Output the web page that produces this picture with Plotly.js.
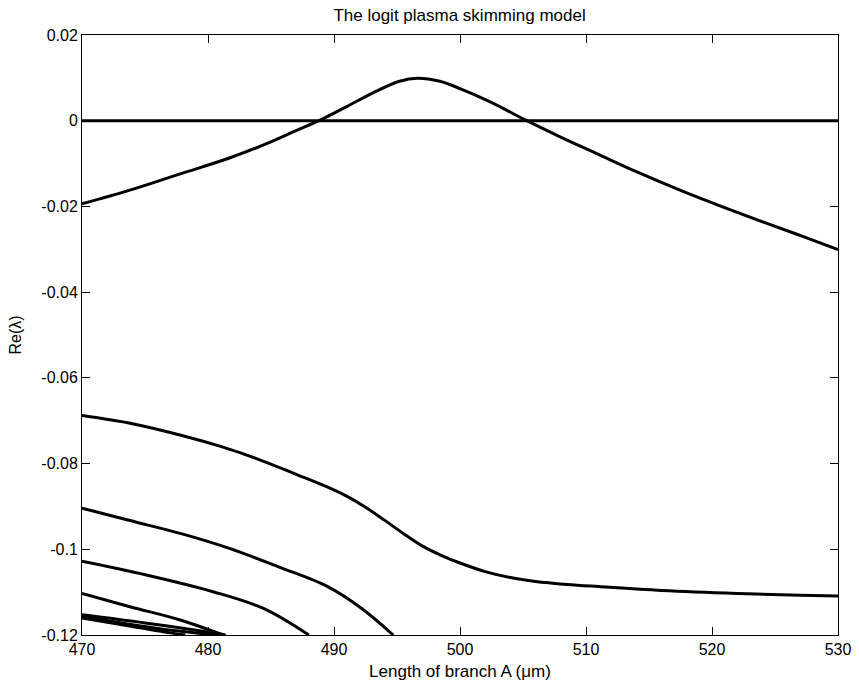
<!DOCTYPE html>
<html>
<head>
<meta charset="utf-8">
<script src="https://cdn.plot.ly/plotly-3.0.1.min.js"></script>
<style>html,body{margin:0;padding:0;background:#fff;}</style>
</head>
<body>
<div id="chart" style="width:859px;height:684px;"></div>
<script>
// Zero branch
const zeroX = [470, 530];
const zeroY = [0, 0];

// Upper hump branch
const humpX = [470, 473.8, 477.8, 481.7, 484.7, 487.0, 488.8, 491.0, 493.1, 495.2, 496.6, 498.4, 500.0, 502.4, 505.3, 507.9, 510.8, 514.0, 517.7, 521.1, 524.3, 527.2, 530];
const humpY = [-0.0194, -0.0162, -0.0124, -0.0087, -0.0053, -0.0023, 0, 0.0033, 0.0065, 0.0092, 0.0099, 0.0092, 0.0075, 0.0044, 0, -0.0037, -0.0076, -0.0119, -0.0165, -0.0204, -0.0239, -0.0270, -0.0301];

// Lower branches
const aX = [470, 474, 478, 481, 484, 487, 489.5, 491, 492.5, 494, 495.5, 497, 498.5, 500, 502, 504, 506, 508.5, 511, 516, 522, 527, 530];
const aY = [-0.0688, -0.0707, -0.0735, -0.0760, -0.0790, -0.0825, -0.0855, -0.0876, -0.0902, -0.0932, -0.0963, -0.0992, -0.1014, -0.1032, -0.1052, -0.1066, -0.1075, -0.1082, -0.1087, -0.1096, -0.1103, -0.1107, -0.1109];

const bX = [470, 473.8, 477.8, 481.7, 485.6, 489.5, 492.2, 494.7];
const bY = [-0.0904, -0.0933, -0.0963, -0.0998, -0.1041, -0.1087, -0.1138, -0.1200];

const cX = [470, 475.1, 480.4, 484.4, 488.0];
const cY = [-0.1028, -0.1060, -0.1099, -0.1138, -0.1200];

const dX = [470, 473.8, 477.8, 481.2];
const dY = [-0.1103, -0.1134, -0.1165, -0.1200];

const eX = [470, 475, 480, 481.4];
const eY = [-0.1153, -0.1172, -0.1193, -0.1200];

const fX = [470, 474, 477, 478.2];
const fY = [-0.1160, -0.1180, -0.1195, -0.1200];

const gX = [470, 476, 480.6];
const gY = [-0.1157, -0.1185, -0.1200];

const xTicks = [470, 480, 490, 500, 510, 520, 530];
const yTicks = [0.02, 0, -0.02, -0.04, -0.06, -0.08, -0.1, -0.12];
const yTickText = ['0.02', '0', '-0.02', '-0.04', '-0.06', '-0.08', '-0.1', '-0.12'];

const series = [[zeroX, zeroY], [humpX, humpY], [aX, aY], [bX, bY], [cX, cY], [dX, dY], [eX, eY], [fX, fY], [gX, gY]];
const traces = series.map(s => ({
  x: s[0], y: s[1], type: 'scatter', mode: 'lines',
  line: {color: '#000', width: 3, shape: 'spline', smoothing: 1},
  hoverinfo: 'skip'
}));

const fam = 'Liberation Sans, Arial, sans-serif';
const font = {family: fam, color: '#000', size: 16};

const layout = {
  width: 859, height: 684,
  margin: {l: 82, r: 21, t: 35, b: 49},
  paper_bgcolor: '#fff', plot_bgcolor: '#fff',
  showlegend: false,
  font: font,
  title: {text: 'The logit plasma skimming model', font: {family: fam, size: 17, color: '#000'}, x: 0.535, xanchor: 'center', y: 0.978, yanchor: 'middle'},
  xaxis: {
    range: [470, 530], tickvals: xTicks, ticktext: xTicks.map(String),
    ticks: 'inside', ticklen: 8, tickcolor: '#000', tickwidth: 1,
    showline: true, linecolor: '#000', linewidth: 1, mirror: 'allticks',
    showgrid: false, zeroline: false,
    tickfont: font,
    title: {text: 'Length of branch A (μm)', font: {family: fam, size: 17, color: '#000'}, standoff: 7}
  },
  yaxis: {
    range: [-0.12, 0.02], tickvals: yTicks, ticktext: yTickText,
    ticks: 'inside', ticklen: 8, tickcolor: '#000', tickwidth: 1,
    showline: true, linecolor: '#000', linewidth: 1, mirror: 'allticks',
    showgrid: false, zeroline: false,
    tickfont: font,
    title: {text: 'Re(λ)', font: {family: fam, size: 16, color: '#000'}, standoff: 15}
  }
};

Plotly.newPlot('chart', traces, layout, {displayModeBar: false, staticPlot: true});
</script>
</body>
</html>
